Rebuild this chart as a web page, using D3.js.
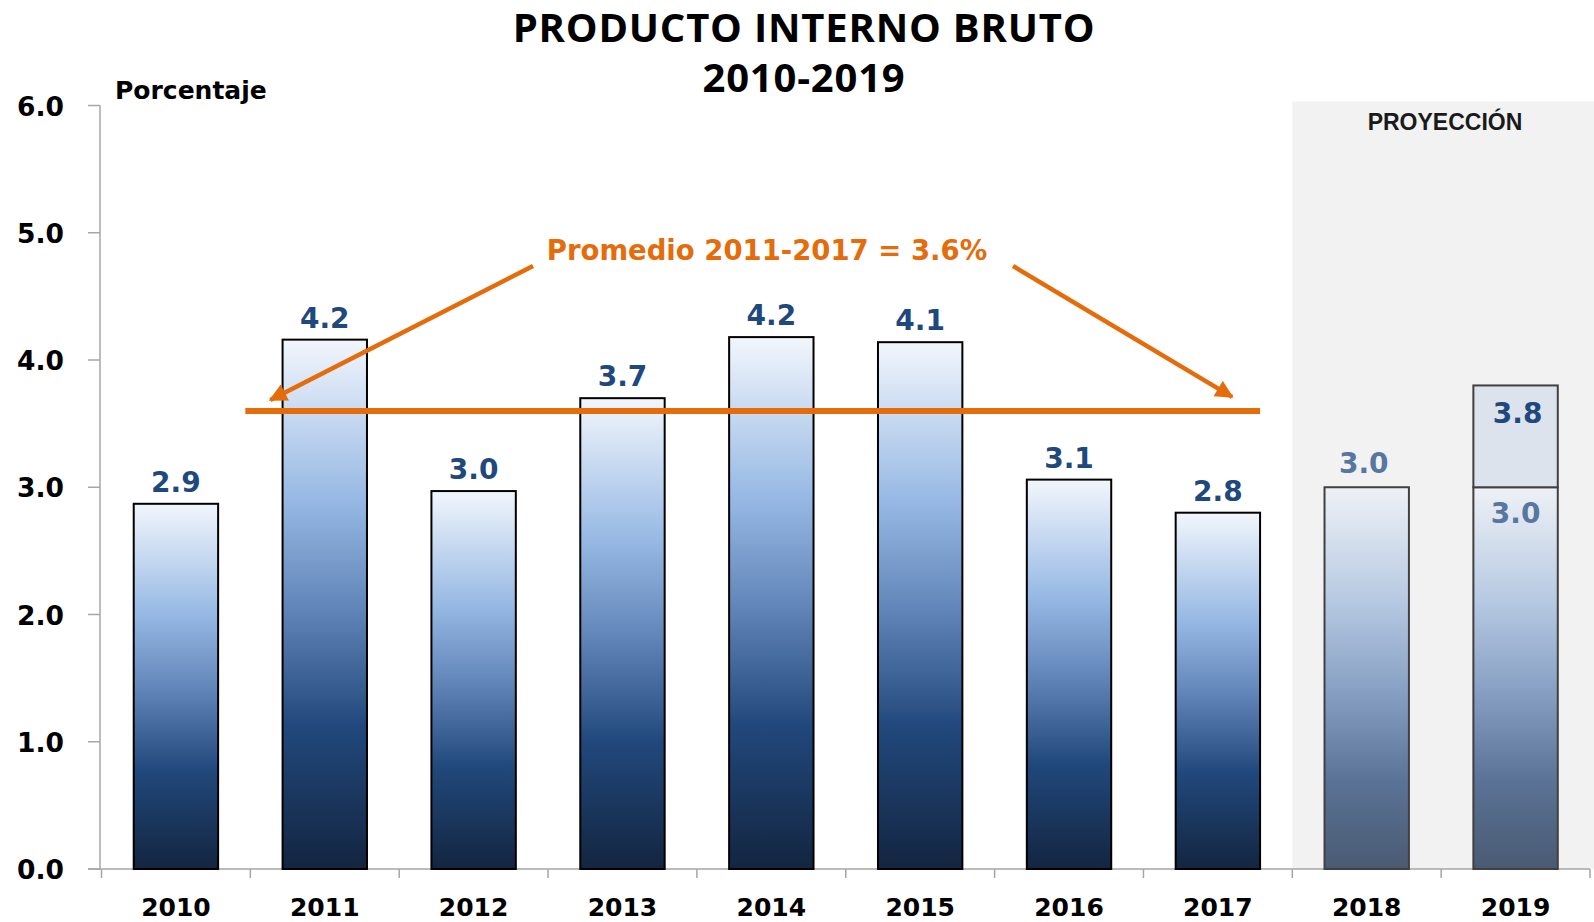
<!DOCTYPE html>
<html>
<head>
<meta charset="utf-8">
<script src="https://cdn.jsdelivr.net/npm/d3@7"></script>
<style>
  body { margin: 0; background: #fff; }
  svg { display: block; }
</style>
</head>
<body>
<div id="chart"></div>
<script>
// Data
const years = ['2010', '2011', '2012', '2013', '2014', '2015', '2016', '2017', '2018', '2019'];
const growth = [2.87, 4.16, 2.97, 3.70, 4.18, 4.14, 3.06, 2.80, 3.0, 3.0];
const growthLabels = ['2.9', '4.2', '3.0', '3.7', '4.2', '4.1', '3.1', '2.8', '3.0', '3.0'];
const projectedYears = ['2018', '2019'];
const rangeYears = ['2019'];
const rangeHigh = [3.8];
const rangeLabels = ['3.8'];
const averageValue = 3.6;
const averageYears = ['2011', '2017'];
const yTicks = [0, 1, 2, 3, 4, 5, 6];

const data = years.map((y, i) => ({year: y, value: growth[i], label: growthLabels[i], proj: projectedYears.includes(y)}));

const width = 1594, height = 922;
const margin = {top: 105.5, right: 4, bottom: 53, left: 101.5};

const svg = d3.select('#chart').append('svg')
	.attr('width', width)
	.attr('height', height);

// gradients
const defs = svg.append('defs');
function addGradient(id, stops) {
	const g = defs.append('linearGradient')
		.attr('id', id)
		.attr('x1', 0).attr('y1', 0).attr('x2', 0).attr('y2', 1);
	stops.forEach(s => g.append('stop').attr('offset', s[0]).attr('stop-color', s[1]));
}
addGradient('histGrad', [[0, '#f2f6fc'], [0.3, '#97b9e4'], [0.5, '#6487bb'], [0.73, '#21487c'], [1, '#132540']]);
addGradient('projGrad', [[0, '#eef1f6'], [0.3, '#b6c9e2'], [0.52, '#8aa2c5'], [0.76, '#5b7497'], [1, '#4a5a73']]);

defs.append('marker')
	.attr('id', 'arrow')
	.attr('markerUnits', 'userSpaceOnUse')
	.attr('viewBox', '0 0 10 10')
	.attr('refX', 9).attr('refY', 5)
	.attr('markerWidth', 20).attr('markerHeight', 18)
	.attr('orient', 'auto')
  .append('path')
	.attr('d', 'M0,0 L10,5 L0,10 Z')
	.attr('fill', '#e46c0a');

// scales
const xScale = d3.scaleBand()
	.domain(years)
	.range([margin.left, width - margin.right])
	.paddingInner(0.433)
	.paddingOuter(0.2165);

const yScale = d3.scaleLinear()
	.domain([0, 6])
	.range([height - margin.bottom, margin.top]);

const step = xScale.step();
const bandStart = d => xScale(d) - step * 0.2165;
const axisX = 100;

// projection background
svg.append('rect')
	.attr('x', bandStart(projectedYears[0]))
	.attr('y', margin.top - 4)
	.attr('width', width - bandStart(projectedYears[0]))
	.attr('height', yScale(0) - margin.top + 4)
	.attr('fill', '#f2f2f2');

svg.append('text')
	.attr('x', 1445)
	.attr('y', 130)
	.attr('text-anchor', 'middle')
	.attr('font-family', 'Liberation Sans, Arial, sans-serif')
	.attr('font-weight', 'bold')
	.attr('font-size', 23)
	.attr('fill', '#1a1a1a')
	.text('PROYECCIÓN');

// axes
const axisColor = '#a6a6a6';
svg.append('line')
	.attr('x1', axisX).attr('x2', axisX)
	.attr('y1', yScale(6)).attr('y2', yScale(0))
	.attr('stroke', axisColor).attr('stroke-width', 1.5);

svg.append('line')
	.attr('x1', axisX - 12).attr('x2', width - margin.right)
	.attr('y1', yScale(0)).attr('y2', yScale(0))
	.attr('stroke', axisColor).attr('stroke-width', 1.5);

svg.selectAll('.ytick')
	.data(yTicks)
	.enter()
  .append('line')
	.attr('class', 'ytick')
	.attr('x1', axisX - 12).attr('x2', axisX)
	.attr('y1', d => yScale(d)).attr('y2', d => yScale(d))
	.attr('stroke', axisColor).attr('stroke-width', 1.5);

svg.selectAll('.ylabel')
	.data(yTicks)
	.enter()
  .append('text')
	.attr('class', 'ylabel')
	.attr('x', 64)
	.attr('y', d => yScale(d) + 10)
	.attr('text-anchor', 'end')
	.attr('font-family', 'DejaVu Sans, Verdana, sans-serif')
	.attr('font-weight', 'bold')
	.attr('font-size', 26.5)
	.attr('fill', '#000')
	.text(d => d3.format('.1f')(d));

const xTickPos = years.map(bandStart).concat([bandStart(years[years.length - 1]) + step]);
svg.selectAll('.xtick')
	.data(xTickPos)
	.enter()
  .append('line')
	.attr('class', 'xtick')
	.attr('x1', d => d).attr('x2', d => d)
	.attr('y1', yScale(0)).attr('y2', yScale(0) + 9)
	.attr('stroke', axisColor).attr('stroke-width', 1.5);

svg.selectAll('.xlabel')
	.data(years)
	.enter()
  .append('text')
	.attr('class', 'xlabel')
	.attr('x', d => xScale(d) + xScale.bandwidth() / 2)
	.attr('y', 916)
	.attr('text-anchor', 'middle')
	.attr('font-family', 'DejaVu Sans, Verdana, sans-serif')
	.attr('font-weight', 'bold')
	.attr('font-size', 25)
	.attr('fill', '#000')
	.text(d => d);

// bars
svg.selectAll('.bar')
	.data(data)
	.enter()
  .append('rect')
	.attr('class', 'bar')
	.attr('x', d => xScale(d.year))
	.attr('y', d => yScale(d.value))
	.attr('width', xScale.bandwidth())
	.attr('height', d => yScale(0) - yScale(d.value))
	.attr('fill', d => d.proj ? 'url(#projGrad)' : 'url(#histGrad)')
	.attr('stroke', d => d.proj ? '#404040' : '#000')
	.attr('stroke-width', 2);

// projected range (upper part of 2019)
svg.selectAll('.range')
	.data(rangeYears)
	.enter()
  .append('rect')
	.attr('class', 'range')
	.attr('x', d => xScale(d))
	.attr('y', (d, i) => yScale(rangeHigh[i]))
	.attr('width', xScale.bandwidth())
	.attr('height', (d, i) => yScale(data.find(e => e.year === d).value) - yScale(rangeHigh[i]))
	.attr('fill', '#dce3ed')
	.attr('stroke', '#404040')
	.attr('stroke-width', 2);

svg.selectAll('.rangeLabel')
	.data(rangeYears)
	.enter()
  .append('text')
	.attr('class', 'rangeLabel')
	.attr('x', d => xScale(d) + xScale.bandwidth() / 2 + 2)
	.attr('y', (d, i) => yScale(rangeHigh[i]) + 38)
	.attr('text-anchor', 'middle')
	.attr('font-family', 'DejaVu Sans, Verdana, sans-serif')
	.attr('font-weight', 'bold')
	.attr('font-size', 28)
	.attr('fill', '#1f497d')
	.text((d, i) => rangeLabels[i]);

// value labels
svg.selectAll('.valueLabel')
	.data(data)
	.enter()
  .append('text')
	.attr('class', 'valueLabel')
	.attr('x', d => xScale(d.year) + xScale.bandwidth() / 2 - (d.year === projectedYears[0] ? 3 : 0))
	.attr('y', d => rangeYears.includes(d.year) ? yScale(d.value) + 36 : yScale(d.value) - (d.proj ? 14 : 12))
	.attr('text-anchor', 'middle')
	.attr('font-family', 'DejaVu Sans, Verdana, sans-serif')
	.attr('font-weight', 'bold')
	.attr('font-size', 28)
	.attr('fill', d => d.proj ? '#56779f' : '#1f497d')
	.text(d => d.label);

// average line and annotation
const orange = '#e46c0a';
const avgY = yScale(averageValue);
const avgX1 = bandStart(averageYears[0]) - 5;
const avgX2 = xScale(averageYears[1]) + xScale.bandwidth();

svg.append('line')
	.attr('x1', avgX1).attr('x2', avgX2)
	.attr('y1', avgY).attr('y2', avgY)
	.attr('stroke', orange)
	.attr('stroke-width', 6);

const noteX = 767;
svg.append('text')
	.attr('x', noteX)
	.attr('y', 260)
	.attr('text-anchor', 'middle')
	.attr('font-family', 'DejaVu Sans, Verdana, sans-serif')
	.attr('font-weight', 'bold')
	.attr('font-size', 27.5)
	.attr('fill', orange)
	.text(`Promedio ${averageYears[0]}-${averageYears[1]} = ${averageValue.toFixed(1)}%`);

svg.append('line')
	.attr('x1', noteX - 234).attr('y1', 266)
	.attr('x2', avgX1 + 25).attr('y2', avgY - 11)
	.attr('stroke', orange).attr('stroke-width', 4.5)
	.attr('marker-end', 'url(#arrow)');

svg.append('line')
	.attr('x1', noteX + 246).attr('y1', 266)
	.attr('x2', avgX2 - 28).attr('y2', avgY - 14)
	.attr('stroke', orange).attr('stroke-width', 4.5)
	.attr('marker-end', 'url(#arrow)');

// titles
svg.append('text')
	.attr('x', 115)
	.attr('y', 99)
	.attr('font-family', 'DejaVu Sans, Verdana, sans-serif')
	.attr('font-weight', 'bold')
	.attr('font-size', 25)
	.attr('fill', '#000')
	.text('Porcentaje');

const title = svg.append('text')
	.attr('text-anchor', 'middle')
	.attr('font-family', 'Open Sans, sans-serif')
	.attr('font-weight', 'bold')
	.attr('font-size', 40)
	.attr('letter-spacing', 0.8)
	.attr('fill', '#000');
title.append('tspan').attr('x', 804).attr('y', 42).text('PRODUCTO INTERNO BRUTO');
title.append('tspan').attr('x', 804).attr('y', 92).text('2010-2019');
</script>
</body>
</html>
